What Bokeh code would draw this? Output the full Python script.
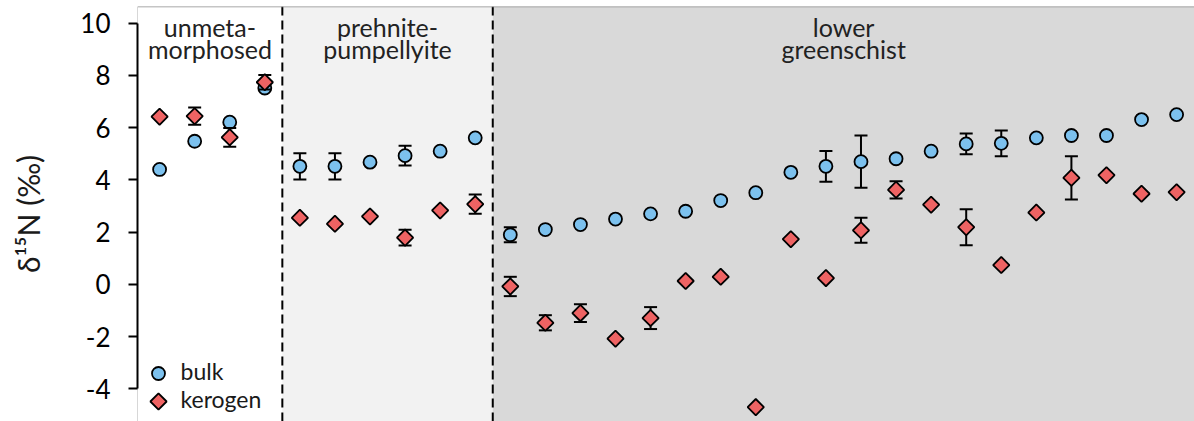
import numpy as np
from bokeh.plotting import figure
from bokeh.models import Range1d, FixedTicker, BoxAnnotation, Span
from bokeh.core.properties import value
from bokeh.embed import file_html
from bokeh.resources import INLINE

# metamorphic grade groups and how many samples each contains
stages = ["unmeta-\nmorphosed", "prehnite-\npumpellyite", "lower\ngreenschist"]
stage_counts = [4, 6, 20]

# sample order along the x axis
sample_idx = list(range(30))

# bulk-rock d15N (permil) and 1-sigma uncertainty (0 = no bar shown)
bulk = [4.40, 5.48, 6.21, 7.52, 4.52, 4.52, 4.68, 4.93, 5.10, 5.61,
        1.90, 2.10, 2.29, 2.50, 2.70, 2.80, 3.21, 3.51, 4.29, 4.52,
        4.70, 4.81, 5.10, 5.38, 5.40, 5.61, 5.70, 5.70, 6.31, 6.50]
bulk_err = [0, 0, 0, 0, 0.50, 0.50, 0, 0.38, 0, 0,
            0.29, 0, 0, 0, 0, 0, 0, 0, 0, 0.59,
            1.00, 0, 0, 0.40, 0.49, 0, 0, 0, 0, 0]

# kerogen d15N (permil) and uncertainty
kerogen = [6.42, 6.44, 5.63, 7.74, 2.55, 2.32, 2.60, 1.79, 2.83, 3.07,
           -0.08, -1.47, -1.10, -2.08, -1.29, 0.13, 0.29, -4.70, 1.73, 0.24,
           2.07, 3.62, 3.05, 2.19, 0.74, 2.75, 4.08, 4.18, 3.47, 3.53]
kerogen_err = [0, 0.33, 0.36, 0.28, 0, 0, 0, 0.30, 0, 0.37,
               0.37, 0.29, 0.34, 0, 0.42, 0, 0, 0, 0, 0,
               0.48, 0.33, 0, 0.69, 0, 0, 0.83, 0, 0, 0]

series_names = ["bulk", "kerogen"]
y_ticks = [-4, -2, 0, 2, 4, 6, 8, 10]

FONT = "Lato"
BULK_COLOR = "#7cc1ee"
KER_COLOR = "#ee6363"

W, H = 1194, 421
BORDER_L, BORDER_T = 137, 6
X_START, X_END = -0.63, 29.51
Y_START, Y_END = -5.25, 10.64

p = figure(width=W, height=H, x_range=Range1d(X_START, X_END),
           y_range=Range1d(Y_START, Y_END), output_backend="svg",
           toolbar_location=None, x_axis_location=None,
           min_border_left=BORDER_L, min_border_top=BORDER_T,
           min_border_right=0, min_border_bottom=0)
p.xgrid.visible = False
p.ygrid.visible = False
p.outline_line_color = None
p.background_fill_color = "white"
p.border_fill_color = "white"

# group boundaries sit half-way between neighbouring samples
edges = list(np.cumsum(stage_counts)[:-1] - 0.5)
lefts = [X_START] + edges
rights = edges + [X_END]
fills = ["white", "#f2f2f2", "#d9d9d9"]
for l, r, c in zip(lefts, rights, fills):
    p.add_layout(BoxAnnotation(left=l, right=r, fill_color=c, fill_alpha=1,
                               line_color=None, level="underlay"))
for e in edges:
    p.add_layout(Span(location=e, dimension="height", line_color="black",
                      line_width=2, line_dash="9 5", level="underlay"))

# thin frame lines on the top and left
p.add_layout(Span(location=Y_END, dimension="width", line_color="#8c8c8c",
                  line_width=1.5, level="underlay"))
p.add_layout(Span(location=X_START, dimension="height", line_color="#b0b0b0",
                  line_width=1, level="underlay"))

# group names
centers = [(l + r) / 2 for l, r in zip(lefts, rights)]
p.text(x=centers, y=[Y_END] * 3, text=stages, text_font=value(FONT),
       text_font_size="25px", text_color="#222222", text_align="center",
       text_baseline="top", y_offset=5, text_line_height=0.74)


def error_bars(xs, ys, errs):
    sel = [(x, y, e) for x, y, e in zip(xs, ys, errs) if e > 0]
    ex = [s[0] for s in sel]
    lo = [s[1] - s[2] for s in sel]
    hi = [s[1] + s[2] for s in sel]
    p.segment(x0=ex, y0=lo, x1=ex, y1=hi, line_color="black", line_width=2)
    p.scatter(x=ex + ex, y=lo + hi, marker="dash", size=13,
              line_color="black", line_width=2)


circle_style = dict(marker="circle", size=13, fill_color=BULK_COLOR,
                    line_color="black", line_width=1.8)
diamond_style = dict(marker="square", size=11.5, angle=np.pi / 4,
                     fill_color=KER_COLOR, line_color="black", line_width=1.8)

error_bars(sample_idx, bulk, bulk_err)
p.scatter(x=sample_idx, y=bulk, **circle_style)
error_bars(sample_idx, kerogen, kerogen_err)
p.scatter(x=sample_idx, y=kerogen, **diamond_style)

# key in the lower-left corner, placed in pixels from the frame's corner
frame_w = W - BORDER_L
frame_h = H - BORDER_T
def px_to_x(px):
    return X_START + px / frame_w * (X_END - X_START)
def px_to_y(py):
    return Y_END - py / frame_h * (Y_END - Y_START)

key_rows = [px_to_y(367), px_to_y(395)]
key_x = px_to_x(21)
p.scatter(x=[key_x], y=[key_rows[0]], **circle_style)
p.scatter(x=[key_x], y=[key_rows[1]], **diamond_style)
p.text(x=[px_to_x(43)] * 2, y=key_rows, text=series_names,
       text_font=value(FONT), text_font_size="23px", text_color="#1a1a1a",
       text_align="left", text_baseline="middle", y_offset=-3)

ax = p.yaxis[0]
ax.ticker = FixedTicker(ticks=y_ticks)
ax.major_label_overrides = {t: str(t) for t in y_ticks}
ax.bounds = (-4, 10)
ax.axis_line_width = 2
ax.axis_line_color = "black"
ax.major_tick_line_width = 2
ax.major_tick_out = 9
ax.major_tick_in = 0
ax.minor_tick_line_color = None
ax.major_label_standoff = 18
ax.major_label_text_font = FONT
ax.major_label_text_font_size = "26px"
ax.major_label_text_color = "black"
ax.axis_label = "δ¹⁵N (‰)"
ax.axis_label_text_font = FONT
ax.axis_label_text_font_size = "30px"
ax.axis_label_text_font_style = "normal"
ax.axis_label_text_color = "#1a1a1a"
ax.axis_label_standoff = 31

open("out.html", "w").write(file_html(p, INLINE))
